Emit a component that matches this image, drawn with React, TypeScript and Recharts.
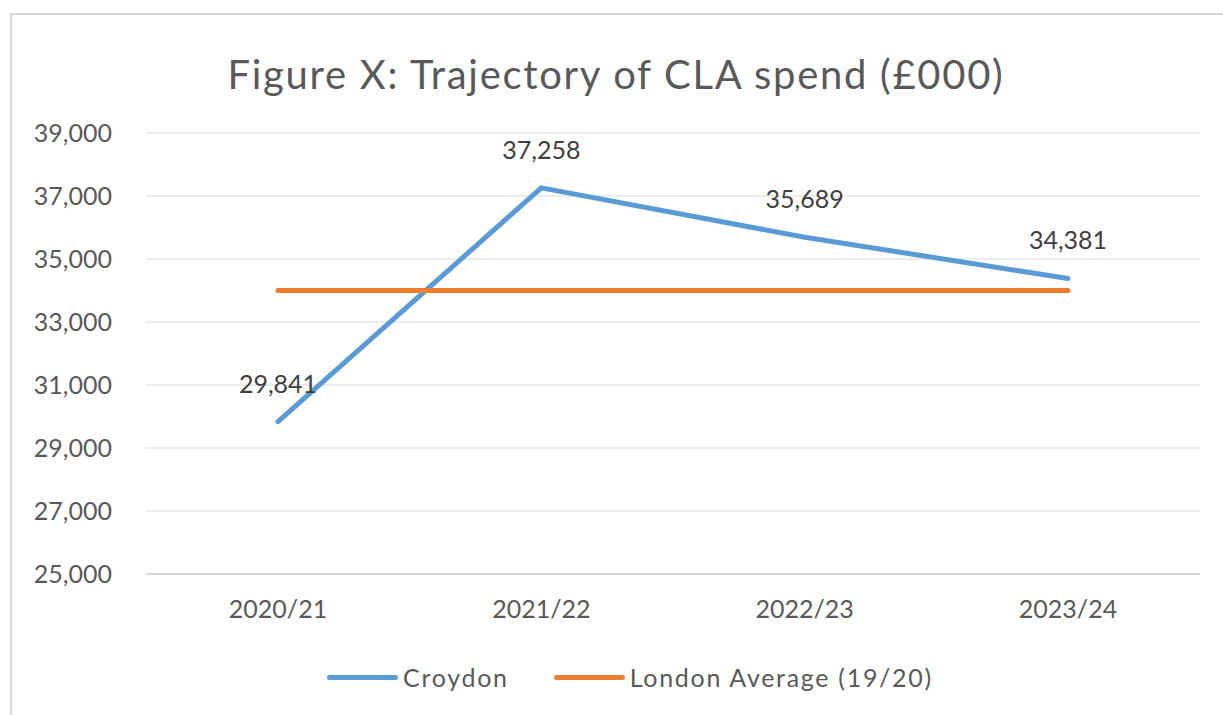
import { LineChart, Line, XAxis, YAxis, CartesianGrid, Legend, LabelList } from 'recharts';

const years = ['2020/21', '2021/22', '2022/23', '2023/24'];
const croydon = [29841, 37258, 35689, 34381];
const londonAverage = [34000, 34000, 34000, 34000];
const yTicks = [25000, 27000, 29000, 31000, 33000, 35000, 37000, 39000];

const data = years.map((year, i) => ({
    year,
    croydon: croydon[i],
    london: londonAverage[i],
}));

const FONT = 'Lato, "Open Sans", sans-serif';

const legendItems = [
    { label: 'Croydon', color: '#5b9bd5' },
    { label: 'London Average (19/20)', color: '#ed7d31' },
];

function ChartLegend() {
    return (
        <div style={{ display: 'flex', justifyContent: 'center', gap: 45, fontFamily: FONT, fontSize: 25, letterSpacing: 1.7, color: '#595959', paddingLeft: 60 }}>
            {legendItems.map((item) => (
                <div key={item.label} style={{ display: 'flex', alignItems: 'center' }}>
                    <span style={{ display: 'inline-block', width: 71, height: 5, borderRadius: 3, background: item.color, marginRight: 5 }} />
                    <span>{item.label}</span>
                </div>
            ))}
        </div>
    );
}

export default function App() {
    return (
        <div style={{ position: 'absolute', left: 0, top: 0, width: 1223, height: 715, background: '#fff', overflow: 'hidden' }}>
            <div
                style={{
                    position: 'absolute',
                    left: 10,
                    top: 13,
                    width: 1223,
                    height: 715,
                    borderTop: '2px solid #d9d9d9',
                    borderLeft: '2px solid #d9d9d9',
                }}
            />
            <div
                style={{
                    position: 'absolute',
                    left: 0,
                    width: 1232,
                    top: 50,
                    textAlign: 'center',
                    fontFamily: FONT,
                    fontSize: 40,
                    letterSpacing: 1.7,
                    color: '#595959',
                    lineHeight: '48px',
                }}
            >
                Figure X: Trajectory of CLA spend (£000)
            </div>
            <div style={{ position: 'absolute', left: 0, top: 0 }}>
                <LineChart width={1223} height={715} data={data} margin={{ top: 133, right: 23, bottom: 20, left: 0 }}>
                    <CartesianGrid vertical={false} stroke="#d9d9d9" strokeWidth={1.2} />
                    <XAxis
                        dataKey="year"
                        axisLine={{ stroke: '#d9d9d9', strokeWidth: 2 }}
                        tickLine={false}
                        tick={{ fontSize: 25, fill: '#595959', fontFamily: FONT }}
                        tickMargin={20}
                        height={69}
                        padding={{ left: 132, right: 132 }}
                    />
                    <YAxis
                        domain={[25000, 39000]}
                        ticks={yTicks}
                        width={146}
                        axisLine={false}
                        tickLine={false}
                        tickMargin={28}
                        tick={{ fontSize: 25, fill: '#595959', fontFamily: FONT }}
                        tickFormatter={(v: number) => v.toLocaleString('en-GB')}
                    />
                    <Legend verticalAlign="bottom" height={52} wrapperStyle={{ bottom: 1 }} content={() => <ChartLegend />} />
                    <Line
                        dataKey="croydon"
                        name="Croydon"
                        stroke="#5b9bd5"
                        strokeWidth={5}
                        strokeLinecap="round"
                        strokeLinejoin="round"
                        dot={false}
                        isAnimationActive={false}
                    >
                        <LabelList
                            dataKey="croydon"
                            position="top"
                            offset={29}
                            formatter={(v: number) => v.toLocaleString('en-GB')}
                            style={{ fontSize: 25, fill: '#404040', fontFamily: FONT }}
                        />
                    </Line>
                    <Line
                        dataKey="london"
                        name="London Average (19/20)"
                        stroke="#ed7d31"
                        strokeWidth={5}
                        strokeLinecap="round"
                        dot={false}
                        isAnimationActive={false}
                    />
                </LineChart>
            </div>
        </div>
    );
}
